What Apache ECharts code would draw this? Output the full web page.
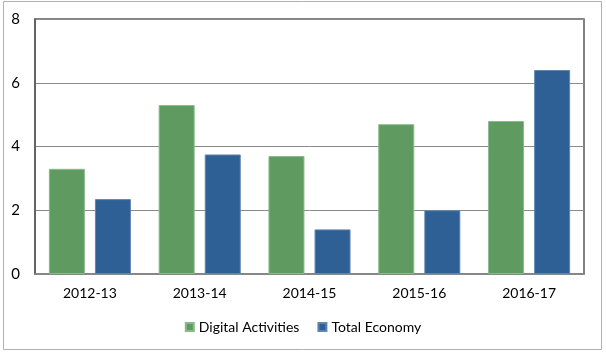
<!DOCTYPE html>
<html><head><meta charset="utf-8">
<script src="https://cdn.jsdelivr.net/npm/echarts@6/dist/echarts.min.js"></script>
<style>html,body{margin:0;padding:0;background:#fff}#c{width:606px;height:355px}</style>
</head><body><div id="c"></div>
<script>
const categories = ['2012-13','2013-14','2014-15','2015-16','2016-17'];
const digitalActivities = [3.3, 5.3, 3.7, 4.7, 4.8];
const totalEconomy = [2.35, 3.75, 1.4, 2.0, 6.4];
const yTicks = [0, 2, 4, 6, 8];

const chart = echarts.init(document.getElementById('c'));
const font = 'Lato, "Open Sans", sans-serif';
chart.setOption({
  animation: false,
  backgroundColor: '#fff',
  textStyle: {fontFamily: font},
  graphic: [{type: 'rect', shape: {x: 3.5, y: 1.5, width: 598, height: 348}, style: {fill: 'none', stroke: '#b0b0b0', lineWidth: 1}, z: -1}],
  grid: {left: 35, top: 19, right: 22, bottom: 81, show: true, borderColor: '#595959', borderWidth: 1.5},
  legend: {
    bottom: 16, left: 'center', itemWidth: 8, itemHeight: 8, itemGap: 18,
    icon: 'rect',
    textStyle: {fontSize: 14, color: '#000', fontFamily: font},
    data: ['Digital Activities', 'Total Economy']
  },
  xAxis: {
    type: 'category', data: categories,
    axisLine: {lineStyle: {color: '#888', width: 1.5}},
    axisTick: {show: false},
    axisLabel: {fontSize: 14, color: '#000', margin: 12, fontFamily: font}
  },
  yAxis: {
    type: 'value', min: yTicks[0], max: yTicks[yTicks.length - 1], interval: 2,
    axisLine: {show: true, lineStyle: {color: '#595959', width: 1.5}},
    axisTick: {show: false},
    splitLine: {lineStyle: {color: '#8a8a8a', width: 1}},
    axisLabel: {fontSize: 15, color: '#000', margin: 15, fontFamily: font}
  },
  series: [
    {name: 'Digital Activities', type: 'bar', data: digitalActivities, barWidth: 36, barGap: '28%',
     itemStyle: {color: '#5f9a60', borderColor: '#8ab98a', borderWidth: 1}},
    {name: 'Total Economy', type: 'bar', data: totalEconomy, barWidth: 36,
     itemStyle: {color: '#2e5f95', borderColor: '#5f86b3', borderWidth: 1}}
  ]
});
</script></body></html>
